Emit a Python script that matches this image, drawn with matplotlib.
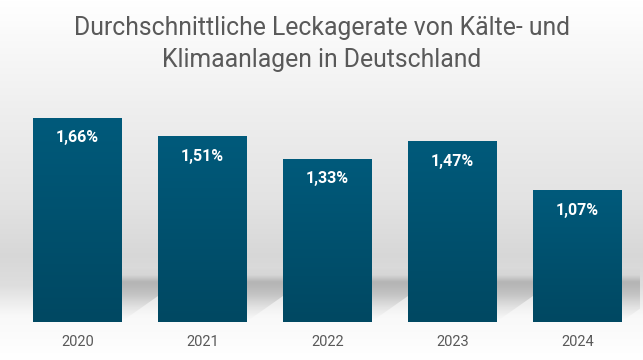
import numpy as np
import matplotlib
matplotlib.use("Agg")
import matplotlib.pyplot as plt
from matplotlib.colors import LinearSegmentedColormap
from matplotlib.patches import Polygon

# Daten
jahre = ["2020", "2021", "2022", "2023", "2024"]
leckagerate = [1.66, 1.51, 1.33, 1.47, 1.07]
labels = ["1,66%", "1,51%", "1,33%", "1,47%", "1,07%"]

titel = "Durchschnittliche Leckagerate von Kälte- und\nKlimaanlagen in Deutschland"

plt.rcParams['font.family'] = ['Roboto', 'DejaVu Sans']

fig = plt.figure(figsize=(6.43, 3.6), dpi=100)

# Hintergrund: vertikaler Grauverlauf
bg = fig.add_axes([0, 0, 1, 1], zorder=0)
stops_y = [0, 60, 120, 200, 255, 285, 315, 360]
stops_g = [1.0, 0.965, 0.93, 0.89, 0.845, 0.87, 0.975, 1.0]
rows = np.interp(np.arange(360), stops_y, stops_g)
img = np.repeat(rows[:, None], 643, axis=1)
bg.imshow(np.dstack([img, img, img]), aspect='auto', extent=[0, 643, 360, 0])
bg.set_xlim(0, 643)
bg.set_ylim(360, 0)
bg.axis('off')

ax = fig.add_axes([15 / 643, 38 / 360, 625 / 643, 245.8 / 360], zorder=1)
ax.patch.set_alpha(0)

x = np.arange(len(jahre))
breite = 0.712
ax.set_xlim(-0.5, len(jahre) - 0.5)
ax.set_ylim(0, 2.0)

# Schatten hinter den Balken (weicher Verlauf)
t = np.linspace(0, 1, 200)
alpha = np.interp(t, [0, 0.25, 0.5, 0.72, 0.85, 1.0], [0.0, 0.12, 0.3, 0.38, 0.05, 0.0])
shade = np.zeros((200, 1, 4))
shade[:, 0, :3] = 0.45
shade[:, 0, 3] = alpha
for xi in x:
    xl, xr = xi - breite / 2, xi + breite / 2
    poly = Polygon([(xl, 0.02), (xl, 0.45), (xr + 0.30, 0.45),
                    (xr + 0.30, 0.22), (xr + 0.02, 0.02)], closed=True,
                   facecolor='none', edgecolor='none')
    ax.add_patch(poly)
    im = ax.imshow(shade, aspect='auto', extent=[xl, xr + 0.30, 0.02, 0.45],
                   origin='lower', zorder=1, interpolation='bilinear')
    im.set_clip_path(poly)

# Balken mit Farbverlauf
bar_cmap = LinearSegmentedColormap.from_list("bar", ["#004862", "#005a7b"])
bars = ax.bar(x, leckagerate, width=breite, color='none', edgecolor='none', zorder=2)
for b in bars:
    bx, by = b.get_x(), b.get_y()
    bw, bh = b.get_width(), b.get_height()
    grad = np.linspace(0, 1, 100)[:, None]
    im = ax.imshow(grad, cmap=bar_cmap, aspect='auto',
                   extent=[bx, bx + bw, by, by + bh], origin='lower', zorder=3)
    im.set_clip_path(b)

for xi, v, lab in zip(x, leckagerate, labels):
    ax.text(xi, v - 0.16, lab, ha='center', va='center', color='white',
            fontsize=11.5, fontweight='bold', zorder=4)

ax.set_xticks(x)
ax.set_xticklabels(jahre, fontsize=10.5, color='#595959')
ax.tick_params(axis='x', length=0, pad=9)
ax.set_yticks([])
for s in ax.spines.values():
    s.set_visible(False)

fig.text(0.5, 0.877, titel, ha='center', va='center', fontsize=17.8,
         color='#595959', linespacing=1.4)

fig.savefig("out.png", dpi=100)
